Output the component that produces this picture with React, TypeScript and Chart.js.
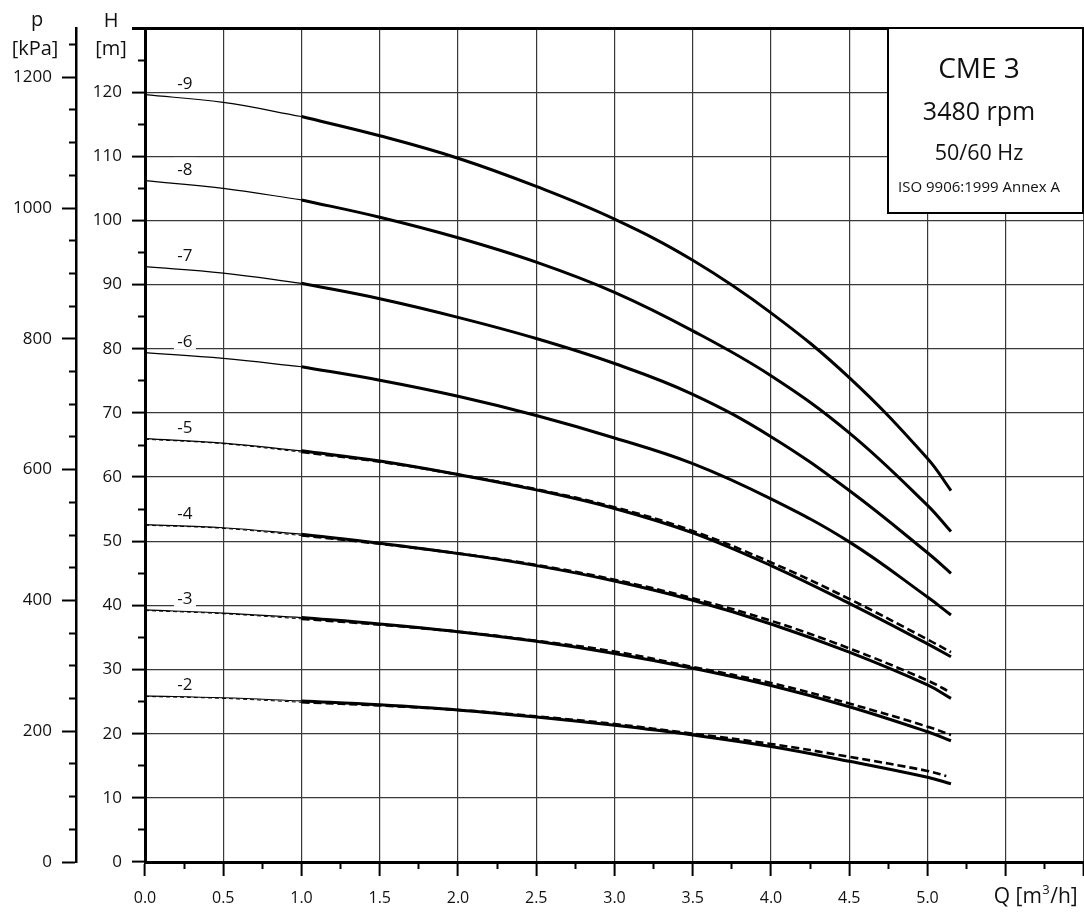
import React, { useEffect, useRef } from "react";
import { Chart, registerables } from "chart.js";

Chart.register(...registerables);

const FONT = "'Open Sans', 'Noto Sans', sans-serif";

// Flow rate values (m³/h) at which heads were read
const FLOW = [0, 0.5, 1.0, 1.5, 2.0, 2.5, 3.0, 3.5, 4.0, 4.5, 5.0, 5.15];
const FLOW_DASH_2 = [0, 0.5, 1.0, 1.5, 2.0, 2.5, 3.0, 3.5, 4.0, 4.5, 5.0, 5.12];
const BOLD_FROM = 1.0;

// Head (m) per stage, solid curves
const HEAD_9 = [119.6, 118.4, 116.2, 113.2, 109.7, 105.3, 100.2, 93.8, 85.6, 75.5, 62.9, 57.9];
const HEAD_8 = [106.2, 105.0, 103.2, 100.5, 97.3, 93.5, 88.8, 82.8, 75.8, 66.9, 55.6, 51.5];
const HEAD_7 = [92.8, 91.8, 90.2, 87.8, 84.9, 81.6, 77.7, 72.9, 66.3, 57.9, 48.2, 45.0];
const HEAD_6 = [79.4, 78.5, 77.2, 75.1, 72.6, 69.6, 66.1, 62.1, 56.6, 49.9, 41.3, 38.5];
const HEAD_5 = [66.0, 65.3, 64.1, 62.5, 60.4, 58.0, 55.1, 51.3, 46.2, 40.3, 34.0, 32.0];
const HEAD_4 = [52.6, 52.1, 51.1, 49.7, 48.1, 46.2, 43.8, 40.8, 37.1, 32.7, 27.6, 25.5];
const HEAD_3 = [39.3, 38.8, 38.1, 37.1, 35.9, 34.4, 32.5, 30.2, 27.5, 24.2, 20.3, 18.9];
const HEAD_2 = [25.9, 25.6, 25.1, 24.5, 23.7, 22.6, 21.3, 19.8, 18.0, 15.7, 13.2, 12.2];

// Dashed curves
const HEAD_5_DASH = [65.9, 65.2, 63.9, 62.4, 60.4, 58.1, 55.3, 51.6, 46.7, 41.0, 34.7, 32.7];
const HEAD_4_DASH = [52.5, 52.0, 50.9, 49.6, 48.1, 46.3, 44.0, 41.1, 37.6, 33.3, 28.3, 26.4];
const HEAD_3_DASH = [39.2, 38.7, 37.9, 37.0, 35.9, 34.5, 32.8, 30.4, 27.9, 24.7, 21.1, 19.8];
const HEAD_2_DASH = [25.8, 25.5, 24.9, 24.4, 23.7, 22.7, 21.5, 20.0, 18.4, 16.4, 14.2, 13.4];

const STAGES = ["-9", "-8", "-7", "-6", "-5", "-4", "-3", "-2"];
const STAGE_HEADS = [HEAD_9, HEAD_8, HEAD_7, HEAD_6, HEAD_5, HEAD_4, HEAD_3, HEAD_2];
const DASHED = [
  { flow: FLOW, head: HEAD_5_DASH },
  { flow: FLOW, head: HEAD_4_DASH },
  { flow: FLOW, head: HEAD_3_DASH },
  { flow: FLOW_DASH_2, head: HEAD_2_DASH },
];
const LABEL_Q = 0.255;

// Axes
const Q_MAX = 6;
const H_MAX = 130;
const KPA_PER_M = 9.81;
const Q_TICKS = [0, 0.5, 1, 1.5, 2, 2.5, 3, 3.5, 4, 4.5, 5, 5.5, 6];
const Q_LABELS = ["0.0", "0.5", "1.0", "1.5", "2.0", "2.5", "3.0", "3.5", "4.0", "4.5", "5.0", "", ""];
const Q_MINOR = [0.25, 0.75, 1.25, 1.75, 2.25, 2.75, 3.25, 3.75, 4.25, 4.75, 5.25, 5.75];
const H_TICKS = [0, 10, 20, 30, 40, 50, 60, 70, 80, 90, 100, 110, 120, 130];
const H_LABELS = ["0", "10", "20", "30", "40", "50", "60", "70", "80", "90", "100", "110", "120", ""];
const H_MINOR = [5, 15, 25, 35, 45, 55, 65, 75, 85, 95, 105, 115, 125];
const P_TICKS = [0, 200, 400, 600, 800, 1000, 1200];
const P_LABELS = ["0", "200", "400", "600", "800", "1000", "1200"];
const P_MINOR = [50, 100, 150, 250, 300, 350, 450, 500, 550, 650, 700, 750, 850, 900, 950, 1050, 1100, 1150, 1250];

const LEGEND_LINES = [
  { text: "CME 3", size: 28, base: 50 },
  { text: "3480 rpm", size: 25, base: 92 },
  { text: "50/60 Hz", size: 21.5, base: 132 },
  { text: "ISO 9906:1999 Annex A", size: 15, base: 164 },
];

const pts = (flow: number[], head: number[], from: number, to: number) =>
  flow.map((q, i) => ({ x: q, y: head[i] })).filter((p) => p.x >= from - 1e-9 && p.x <= to + 1e-9);

function buildDatasets() {
  const ds: any[] = [];
  const base = {
    borderColor: "#000",
    pointRadius: 0,
    tension: 0.4,
    fill: false,
    xAxisID: "x",
    yAxisID: "y",
  };
  DASHED.forEach((d) => {
    ds.push({ ...base, data: pts(d.flow, d.head, 0, BOLD_FROM), borderWidth: 1, borderDash: [4, 3] });
    ds.push({ ...base, data: pts(d.flow, d.head, BOLD_FROM, 99), borderWidth: 2.6, borderDash: [8, 4] });
  });
  STAGE_HEADS.forEach((h) => {
    ds.push({ ...base, data: pts(FLOW, h, 0, BOLD_FROM), borderWidth: 1.2 });
    ds.push({ ...base, data: pts(FLOW, h, BOLD_FROM, 99), borderWidth: 3 });
  });
  return ds;
}

const setTicks = (values: number[]) => (scale: any) => {
  scale.ticks = values.map((v) => ({ value: v }));
};

const noSidePad = (s: any) => {
  s.paddingLeft = 0;
  s.paddingRight = 0;
};

const decor = {
  id: "decor",
  beforeDatasetsDraw(chart: any) {
    const { ctx, scales } = chart;
    const x = scales.x;
    const y = scales.y;
    ctx.save();
    ctx.font = `17px ${FONT}`;
    ctx.textAlign = "center";
    ctx.textBaseline = "alphabetic";
    STAGES.forEach((name, i) => {
      const cx = x.getPixelForValue(LABEL_Q);
      const base = y.getPixelForValue(STAGE_HEADS[i][0]) - 6;
      ctx.fillStyle = "#fff";
      ctx.fillRect(cx - 11, base - 17, 22, 20);
      ctx.fillStyle = "#111";
      ctx.fillText(name, cx, base);
    });
    ctx.restore();
  },
  afterDraw(chart: any) {
    const { ctx, chartArea, scales } = chart;
    ctx.save();
    // legend box
    const bx = chartArea.right - 196;
    const by = chartArea.top;
    ctx.fillStyle = "#fff";
    ctx.fillRect(bx, by, 195, 185);
    ctx.strokeStyle = "#000";
    ctx.lineWidth = 2;
    ctx.strokeRect(bx, by, 195, 185);
    ctx.fillStyle = "#111";
    ctx.textAlign = "center";
    ctx.textBaseline = "alphabetic";
    LEGEND_LINES.forEach((l) => {
      ctx.font = `${l.size}px ${FONT}`;
      ctx.fillText(l.text, bx + 91, by + l.base);
    });
    // axis titles
    ctx.font = `20px ${FONT}`;
    const pScale = scales.p;
    const hScale = scales.y;
    const pCx = pScale.left + 37;
    const hCx = hScale.left + 35;
    ctx.fillText("p", pCx, 26);
    ctx.fillText("[kPa]", pCx - 2, 55);
    ctx.fillText("H", hCx, 27);
    ctx.fillText("[m]", hCx, 55);
    // Q title
    ctx.textAlign = "left";
    let qx = scales.x.getPixelForValue(5.5) - 12;
    const qb = 903;
    ctx.font = `21px ${FONT}`;
    ctx.fillText("Q [m", qx, qb);
    qx += ctx.measureText("Q [m").width;
    ctx.font = `13px ${FONT}`;
    ctx.fillText("3", qx + 0.5, qb - 9);
    qx += ctx.measureText("3").width + 1;
    ctx.font = `21px ${FONT}`;
    ctx.fillText("/h]", qx, qb);
    ctx.restore();
  },
};

export default function App() {
  const ref = useRef<HTMLCanvasElement>(null);
  useEffect(() => {
    document.body.style.margin = "0";
    const canvas = ref.current!;
    const tickFont = { family: FONT, size: 17 };
    const gridColor = "#383838";
    const chart = new Chart(canvas, {
      type: "line",
      data: { datasets: buildDatasets() },
      options: {
        animation: false,
        responsive: true,
        maintainAspectRatio: false,
        layout: { padding: { top: 28, left: 0, right: 0, bottom: 0 } },
        plugins: { legend: { display: false }, tooltip: { enabled: false } },
        scales: {
          x: {
            type: "linear",
            position: "bottom",
            weight: 1,
            min: 0,
            max: Q_MAX,
            afterBuildTicks: setTicks(Q_TICKS),
            afterFit: (s: any) => { s.height = 50; noSidePad(s); },
            ticks: {
              autoSkip: false,
              maxRotation: 0,
              minRotation: 0,
              padding: 13,
              color: "#111",
              font: { family: FONT, size: 16 },
              callback: (_v: any, i: number) => Q_LABELS[i],
            },
            grid: { color: gridColor, lineWidth: 1.2, tickColor: "#000", tickWidth: 2, tickLength: 14 },
            border: { display: true, color: "#000", width: 3 },
          },
          xMinor: {
            type: "linear",
            position: "bottom",
            weight: 0,
            min: 0,
            max: Q_MAX,
            afterBuildTicks: setTicks(Q_MINOR),
            afterFit: (s: any) => { s.height = 0; noSidePad(s); },
            ticks: { display: false },
            grid: { drawOnChartArea: false, tickColor: "#000", tickWidth: 2, tickLength: 7 },
            border: { display: false },
          },
          y: {
            type: "linear",
            position: "left",
            weight: 1,
            min: 0,
            max: H_MAX,
            afterBuildTicks: setTicks(H_TICKS),
            afterFit: (s: any) => { s.width = 69; },
            ticks: {
              padding: 10,
              color: "#111",
              font: tickFont,
              callback: (_v: any, i: number) => H_LABELS[i],
            },
            grid: {
              color: (c: any) => (c.tick && c.tick.value === H_MAX ? "#000" : gridColor),
              lineWidth: (c: any) => (c.tick && c.tick.value === H_MAX ? 3 : 1.2),
              tickColor: "#000",
              tickWidth: (c: any) => (c.tick && c.tick.value === H_MAX ? 3 : 2),
              tickLength: 13,
            },
            border: { display: true, color: "#000", width: 3 },
          },
          yMinor: {
            type: "linear",
            position: "left",
            weight: 0,
            min: 0,
            max: H_MAX,
            afterBuildTicks: setTicks(H_MINOR),
            afterFit: (s: any) => { s.width = 0; },
            ticks: { display: false },
            grid: { drawOnChartArea: false, tickColor: "#000", tickWidth: 2, tickLength: 7 },
            border: { display: false },
          },
          p: {
            type: "linear",
            position: "left",
            weight: 3,
            min: 0,
            max: H_MAX * KPA_PER_M,
            afterBuildTicks: setTicks(P_TICKS),
            afterFit: (s: any) => { s.width = 76; },
            ticks: {
              padding: 10,
              color: "#111",
              font: tickFont,
              callback: (_v: any, i: number) => P_LABELS[i],
            },
            grid: { drawOnChartArea: false, tickColor: "#000", tickWidth: 2, tickLength: 14 },
            border: { display: true, color: "#000", width: 2.5 },
          },
          pMinor: {
            type: "linear",
            position: "left",
            weight: 2,
            min: 0,
            max: H_MAX * KPA_PER_M,
            afterBuildTicks: setTicks(P_MINOR),
            afterFit: (s: any) => { s.width = 0; },
            ticks: { display: false },
            grid: { drawOnChartArea: false, tickColor: "#000", tickWidth: 2, tickLength: 7 },
            border: { display: false },
          },
        },
      } as any,
      plugins: [decor],
    });
    return () => chart.destroy();
  }, []);
  return (
    <div style={{ width: 1084, height: 912, position: "relative", background: "#fff" }}>
      <canvas ref={ref} />
    </div>
  );
}
